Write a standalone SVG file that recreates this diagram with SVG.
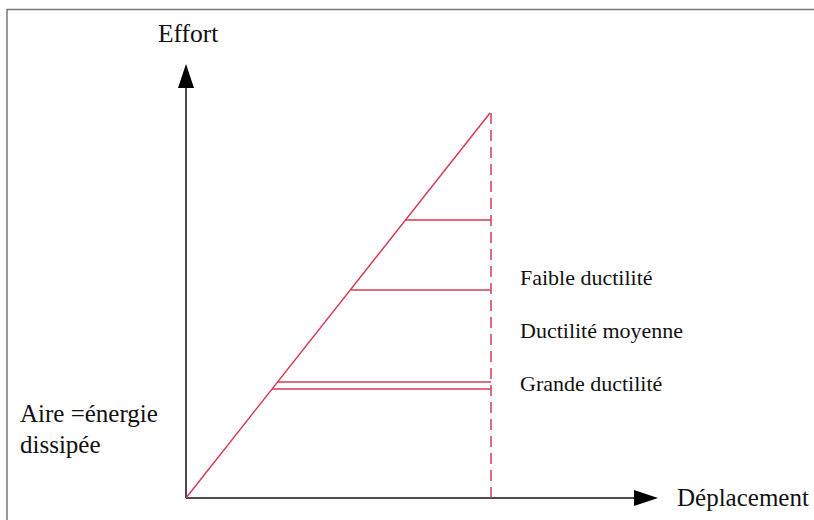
<svg xmlns="http://www.w3.org/2000/svg" width="814" height="520" viewBox="0 0 814 520">
  <style>
    .lbl { font-family: "Liberation Serif", "Times New Roman", serif; fill: #111; }
    .axis { stroke: #111; stroke-width: 1.5; fill: none; }
    .red { stroke: #d23c55; stroke-width: 1.5; fill: none; }
    .dash { stroke: #d23c55; stroke-width: 1.5; fill: none; stroke-dasharray: 11 6; }
  </style>
  <rect x="0" y="0" width="814" height="520" fill="#fff"/>
  <!-- outer frame -->
  <rect x="7" y="9.5" width="820" height="520" fill="none" stroke="#777" stroke-width="1.5"/>

  <g id="axes">
    <line class="axis" x1="186" y1="498" x2="186" y2="86"/>
    <polygon points="186,64 178,88 194,88" fill="#000"/>
    <line class="axis" x1="186" y1="498" x2="636" y2="498" stroke="#444"/>
    <polygon points="658,498 634,490 634,506" fill="#000"/>
  </g>

  <g id="curve">
    <line class="red" x1="186" y1="498" x2="490" y2="113"/>
    <line class="dash" x1="491" y1="113" x2="491" y2="498"/>
    <line class="red" x1="405" y1="220" x2="491" y2="220"/>
    <line class="red" x1="351" y1="290" x2="491" y2="290"/>
    <line class="red" x1="277" y1="382" x2="491" y2="382"/>
    <line class="red" x1="272" y1="389" x2="491" y2="389"/>
  </g>

  <g id="labels">
    <text class="lbl" x="158" y="42" font-size="25.5">Effort</text>
    <text class="lbl" x="677" y="506" font-size="25">Déplacement</text>
    <text class="lbl" x="520" y="285" font-size="22">Faible ductilité</text>
    <text class="lbl" x="520" y="338" font-size="22">Ductilité moyenne</text>
    <text class="lbl" x="520" y="391" font-size="22">Grande ductilité</text>
    <text class="lbl" x="20" y="422" font-size="25">Aire =énergie</text>
    <text class="lbl" x="20" y="453" font-size="25">dissipée</text>
  </g>
</svg>
